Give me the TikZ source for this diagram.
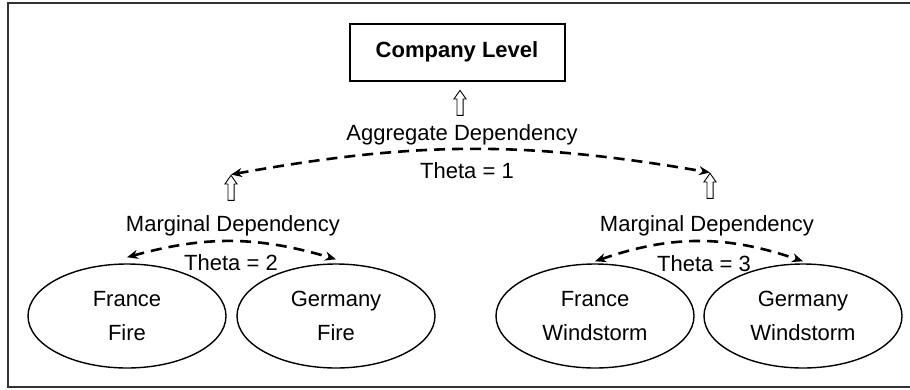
\documentclass[tikz,border=0pt]{standalone}
\usepackage{fontspec}
\setmainfont{Liberation Sans}
\usetikzlibrary{arrows.meta,positioning,shapes.geometric,shapes.arrows}

\begin{document}
\begin{tikzpicture}[
		x=1pt, y=-1pt,
		font=\fontsize{22}{34}\selectfont,
		level/.style={draw, line width=2pt, minimum height=57pt, minimum width=215pt},
		risk/.style={draw, ellipse, line width=1.4pt, align=center, minimum width=198pt, minimum height=104pt, inner sep=0pt},
		rise/.style={draw, single arrow, shape border rotate=90, line width=0.9pt, minimum height=25pt, inner sep=2.6pt, single arrow head extend=3pt, single arrow tip angle=70},
		dep/.style={line width=2.6pt, dash pattern=on 11pt off 7pt, {Stealth[length=11pt,width=9pt]}-{Stealth[length=11pt,width=9pt]}},
	]
		\useasboundingbox (0,0) rectangle (910,389);
		\draw[line width=2pt, black!80] (916,3) -- (8,3) -- (8,387) -- (916,387);

		\node [level] (company) at (457,52) {\textbf{Company Level}};
		\node [rise] (up top) at (460,105) {};
		\node (aggregate) at (462,135) {Aggregate Dependency};
		\node (theta a) at (467,171) {Theta = 1};
		\node [rise] (up left) at (231,190) {};
		\node [rise] (up right) at (710,188) {};

		\node (marginal a) at (233,226) {Marginal Dependency};
		\node (marginal b) at (707,226) {Marginal Dependency};
		\node (theta b) at (231,263) {Theta = 2};
		\node (theta c) at (704,264) {Theta = 3};

		\node [risk] (france fire) at (127,316) {France\\Fire};
		\node [risk] (germany fire) at (336,316) {Germany\\Fire};
		\node [risk] (france wind) at (595,316) {France\\Windstorm};
		\node [risk] (germany wind) at (803,316) {Germany\\Windstorm};

		\draw[dep] (up left.tip) to[bend left=10] (up right.tip);
		\draw[dep] ([yshift=6pt]france fire.north) to[bend left=16] ([yshift=4pt]germany fire.north);
		\draw[dep] ([yshift=2pt]france wind.north) to[bend left=19] ([yshift=2pt]germany wind.north);
	\end{tikzpicture}
\end{document}
